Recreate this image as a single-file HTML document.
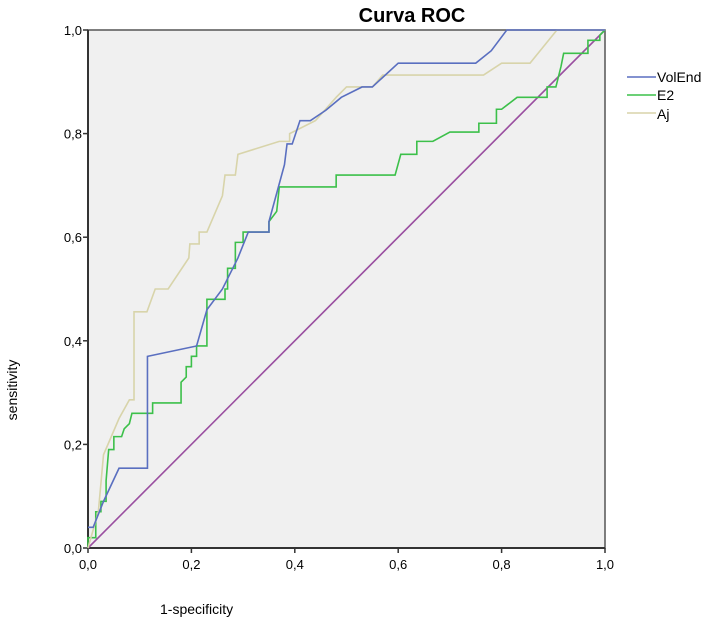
<!DOCTYPE html>
<html><head><meta charset="utf-8"><style>
body{margin:0;background:#fff;}
svg{display:block;font-family:"Liberation Sans",sans-serif;}
</style></head><body>
<svg id="chart" width="709" height="624">
<rect x="88" y="30" width="517" height="518" fill="#f0f0f0" stroke="#555" stroke-width="1.5"/>
<text x="412" y="22" text-anchor="middle" font-size="20" font-weight="bold" fill="#000">Curva ROC</text>
<text x="160" y="614" font-size="14" fill="#000">1-specificity</text>
<text transform="translate(17,390) rotate(-90)" text-anchor="middle" font-size="14" fill="#000">sensitivity</text>
<g id="axes"></g>
<g id="series"></g>
<g>
<line x1="627" y1="77" x2="656" y2="77" stroke="#5a6fc0" stroke-width="1.5"/>
<text x="657" y="82" font-size="14">VolEnd</text>
<line x1="627" y1="95" x2="656" y2="95" stroke="#3cc04a" stroke-width="1.5"/>
<text x="657" y="100" font-size="14">E2</text>
<line x1="627" y1="113" x2="656" y2="113" stroke="#d8d4aa" stroke-width="1.5"/>
<text x="657" y="119" font-size="14">Aj</text>
</g>
</svg>
<script>
const ticks=[0,0.2,0.4,0.6,0.8,1.0];
const tickLabels=["0,0","0,2","0,4","0,6","0,8","1,0"];
const volEndX=[0,0.01,0.03,0.06,0.115,0.115,0.21,0.23,0.26,0.29,0.31,0.35,0.35,0.38,0.385,0.395,0.41,0.43,0.46,0.49,0.53,0.55,0.6,0.75,0.78,0.81,1];
const volEndY=[0.04,0.04,0.09,0.154,0.154,0.37,0.39,0.46,0.5,0.56,0.61,0.61,0.63,0.74,0.78,0.78,0.825,0.825,0.845,0.87,0.89,0.89,0.936,0.936,0.96,1,1];
const e2X=[0,0,0.015,0.015,0.025,0.025,0.035,0.035,0.04,0.05,0.05,0.065,0.07,0.08,0.085,0.125,0.125,0.18,0.18,0.19,0.19,0.2,0.2,0.21,0.21,0.23,0.23,0.265,0.265,0.27,0.27,0.285,0.285,0.3,0.3,0.35,0.35,0.365,0.37,0.48,0.48,0.594,0.605,0.636,0.636,0.667,0.7,0.756,0.756,0.79,0.79,0.80,0.83,0.888,0.888,0.905,0.915,0.92,0.967,0.967,0.99,0.99,1];
const e2Y=[0,0.02,0.02,0.07,0.07,0.09,0.09,0.13,0.19,0.19,0.215,0.215,0.23,0.24,0.26,0.26,0.28,0.28,0.32,0.33,0.35,0.35,0.37,0.37,0.39,0.39,0.48,0.48,0.5,0.5,0.54,0.54,0.59,0.59,0.61,0.61,0.63,0.65,0.697,0.697,0.72,0.72,0.76,0.76,0.785,0.785,0.803,0.803,0.82,0.82,0.847,0.847,0.87,0.87,0.89,0.89,0.93,0.955,0.955,0.98,0.98,0.99,1];
const ajX=[0,0.02,0.03,0.06,0.08,0.089,0.089,0.114,0.13,0.155,0.195,0.197,0.215,0.215,0.23,0.26,0.265,0.285,0.29,0.37,0.39,0.39,0.44,0.48,0.5,0.55,0.57,0.765,0.8,0.855,0.907,1];
const ajY=[0,0.07,0.18,0.25,0.286,0.286,0.456,0.456,0.5,0.5,0.56,0.587,0.587,0.61,0.61,0.68,0.72,0.72,0.76,0.785,0.785,0.8,0.825,0.87,0.89,0.89,0.913,0.913,0.936,0.936,1,1];
const refX=[0,1], refY=[0,1];
const X0=88,W=517,Y0=548,H=518;
const sx=v=>X0+v*W, sy=v=>Y0-v*H;
const NS="http://www.w3.org/2000/svg";
const axes=document.getElementById('axes'), series=document.getElementById('series');
function mk(tag,attrs,parent){const e=document.createElementNS(NS,tag);for(const k in attrs)e.setAttribute(k,attrs[k]);parent.appendChild(e);return e;}
ticks.forEach((t,i)=>{
  let l=mk('line',{x1:sx(t),x2:sx(t),y1:Y0,y2:Y0+5,stroke:'#333','stroke-width':1.5},axes);
  
  
  let tx=mk('text',{x:sx(t),y:Y0+21,'text-anchor':'middle','font-size':13},axes);tx.textContent=tickLabels[i];
  
  
  let l2=mk('line',{x1:X0-5,x2:X0,y1:sy(t),y2:sy(t),stroke:'#333','stroke-width':1.5},axes);
  
  
  let ty=mk('text',{x:X0-6,y:sy(t)+5,'text-anchor':'end','font-size':13},axes);ty.textContent=tickLabels[i];
  
  
});
mk('line',{x1:X0,x2:X0,y1:30,y2:Y0,stroke:'#333','stroke-width':2},axes);
mk('line',{x1:X0,x2:X0+W,y1:Y0,y2:Y0,stroke:'#333','stroke-width':2},axes);
function draw(xs,ys,color,name){
  const p=mk('polyline',{points:xs.map((x,i)=>sx(x)+','+sy(ys[i])).join(' '),fill:'none',stroke:color,'stroke-width':1.6},series);
  
  
}
draw(refX,refY,'#9a4fa0','reference-line');
draw(e2X,e2Y,'#3cc04a','e2-curve');
draw(ajX,ajY,'#d8d4aa','aj-curve');
draw(volEndX,volEndY,'#5a6fc0','volend-curve');
</script>
</body></html>
